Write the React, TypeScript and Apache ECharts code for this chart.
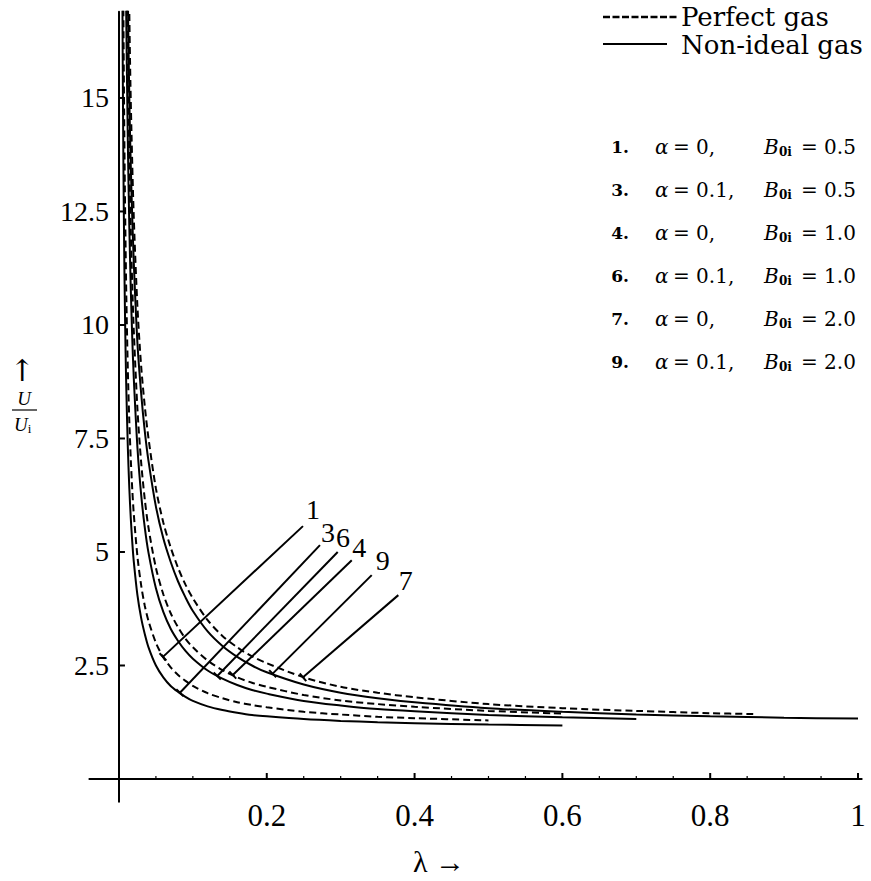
import React, { useEffect, useRef } from "react";
import * as echarts from "echarts";

// ---- data ----
// Curve 1: alpha = 0, B0i = 0.5 (perfect gas, dashed)
const lam1 = [0.005, 0.006, 0.007, 0.008, 0.009, 0.01, 0.012, 0.014, 0.016, 0.018, 0.02, 0.025, 0.03, 0.035, 0.04, 0.05, 0.06, 0.07, 0.08, 0.09, 0.1, 0.12, 0.14, 0.16, 0.18, 0.2, 0.25, 0.3, 0.35, 0.4, 0.5];
const u1 = [20.1, 16.9, 14.7, 13.0, 11.7, 10.6, 9.02, 7.89, 7.04, 6.38, 5.85, 4.9, 4.27, 3.81, 3.48, 3.0, 2.68, 2.46, 2.29, 2.16, 2.05, 1.89, 1.78, 1.69, 1.63, 1.58, 1.48, 1.42, 1.37, 1.34, 1.29];
// Curve 3: alpha = 0.1, B0i = 0.5 (non-ideal, solid)
const lam3 = [0.004, 0.005, 0.006, 0.007, 0.008, 0.009, 0.01, 0.012, 0.014, 0.016, 0.018, 0.02, 0.025, 0.03, 0.035, 0.04, 0.05, 0.06, 0.07, 0.08, 0.09, 0.1, 0.12, 0.14, 0.16, 0.18, 0.2, 0.25, 0.3, 0.35, 0.4, 0.5, 0.6];
const u3 = [19.8, 16.05, 13.55, 11.76, 10.43, 9.38, 8.55, 7.3, 6.41, 5.74, 5.22, 4.8, 4.05, 3.55, 3.19, 2.9, 2.5, 2.24, 2.05, 1.92, 1.81, 1.72, 1.6, 1.52, 1.46, 1.41, 1.38, 1.32, 1.28, 1.25, 1.23, 1.2, 1.18];
// Curve 4: alpha = 0, B0i = 1.0 (dashed)
const lam4 = [0.009, 0.01, 0.012, 0.014, 0.016, 0.018, 0.02, 0.025, 0.03, 0.035, 0.04, 0.05, 0.06, 0.07, 0.08, 0.09, 0.1, 0.12, 0.14, 0.16, 0.18, 0.2, 0.25, 0.3, 0.35, 0.4, 0.5, 0.6];
const u4 = [20.6, 18.65, 15.73, 13.65, 12.09, 10.87, 9.9, 8.15, 6.98, 6.15, 5.53, 4.65, 4.07, 3.65, 3.34, 3.09, 2.9, 2.61, 2.4, 2.24, 2.12, 2.03, 1.85, 1.73, 1.65, 1.59, 1.5, 1.44];
// Curve 6: alpha = 0.1, B0i = 1.0 (solid)
const lam6 = [0.008, 0.009, 0.01, 0.012, 0.014, 0.016, 0.018, 0.02, 0.025, 0.03, 0.035, 0.04, 0.05, 0.06, 0.07, 0.08, 0.09, 0.1, 0.12, 0.14, 0.16, 0.18, 0.2, 0.25, 0.3, 0.35, 0.4, 0.5, 0.6, 0.7];
const u6 = [20.5, 18.3, 16.6, 14.02, 12.17, 10.79, 9.71, 8.85, 7.3, 6.27, 5.53, 4.98, 4.2, 3.68, 3.31, 3.04, 2.82, 2.65, 2.39, 2.21, 2.07, 1.96, 1.88, 1.72, 1.62, 1.54, 1.49, 1.41, 1.36, 1.32];
// Curve 7: alpha = 0, B0i = 2.0 (dashed)
const lam7 = [0.012, 0.013, 0.015, 0.017, 0.02, 0.025, 0.03, 0.035, 0.04, 0.05, 0.06, 0.07, 0.08, 0.09, 0.1, 0.12, 0.14, 0.16, 0.18, 0.2, 0.25, 0.3, 0.35, 0.4, 0.5, 0.6, 0.7, 0.8, 0.86];
const u7 = [20.0, 18.2, 15.8, 14.2, 12.4, 10.4, 9.1, 8.2, 7.5, 6.4, 5.65, 5.1, 4.65, 4.28, 3.98, 3.5, 3.15, 2.9, 2.7, 2.55, 2.24, 2.03, 1.9, 1.8, 1.65, 1.56, 1.5, 1.45, 1.43];
// Curve 9: alpha = 0.1, B0i = 2.0 (solid)
const lam9 = [0.011, 0.012, 0.0135, 0.015, 0.017, 0.02, 0.025, 0.03, 0.035, 0.04, 0.05, 0.06, 0.07, 0.08, 0.09, 0.1, 0.12, 0.14, 0.16, 0.18, 0.2, 0.25, 0.3, 0.35, 0.4, 0.5, 0.6, 0.7, 0.8, 0.9, 1.0];
const u9 = [19.0, 17.3, 15.5, 14.2, 12.9, 11.4, 9.6, 8.5, 7.65, 7.0, 6.0, 5.3, 4.78, 4.35, 4.0, 3.7, 3.25, 2.93, 2.69, 2.5, 2.35, 2.08, 1.9, 1.78, 1.69, 1.56, 1.48, 1.42, 1.38, 1.35, 1.33];

// callouts (label, label position, leader start, leader end on curve)
const calloutLabels = ["1", "3", "6", "4", "9", "7"];
const calloutLabelLam = [0.2625, 0.283, 0.303, 0.325, 0.357, 0.388];
const calloutLabelU = [5.93, 5.42, 5.33, 5.09, 4.82, 4.38];
const calloutStartLam = [0.249, 0.272, 0.296, 0.315, 0.342, 0.378];
const calloutStartU = [5.57, 5.15, 5.0, 4.82, 4.49, 4.05];
const calloutEndLam = [0.0595, 0.0825, 0.133, 0.154, 0.208, 0.249];
const calloutEndU = [2.69, 1.9, 2.27, 2.29, 2.32, 2.24];

// axis ticks
const xLabelValues = [0.2, 0.4, 0.6, 0.8, 1.0];
const xMinorValues = [0.05, 0.1, 0.15, 0.25, 0.3, 0.35, 0.45, 0.5, 0.55, 0.65, 0.7, 0.75, 0.85, 0.9, 0.95];
const yLabelValues = [2.5, 5, 7.5, 10, 12.5, 15];

// parameter list
const caseNumbers = ["1.", "3.", "4.", "6.", "7.", "9."];
const caseAlpha = ["0,", "0.1,", "0,", "0.1,", "0,", "0.1,"];
const caseB = ["0.5", "0.5", "1.0", "1.0", "2.0", "2.0"];

const SERIF = "Liberation Serif";
const MATH = "DejaVu Serif";

function pairs(l: number[], u: number[]) {
  return l.map((x, i) => [x, u[i]]);
}

export default function App() {
  const ref = useRef<HTMLDivElement>(null);

  useEffect(() => {
    const el = ref.current!;
    const chart = echarts.init(el, null, { renderer: "svg", width: 871, height: 881 });

    const solid = { color: "#000", width: 2, type: "solid" as const };
    const dashed = { color: "#000", width: 2, type: [7, 4] as any };

    const lineSeries = (name: string, data: number[][], style: any) => ({
      type: "line",
      name,
      xAxisIndex: 0,
      yAxisIndex: 0,
      data,
      showSymbol: false,
      smooth: 0.3,
      clip: true,
      lineStyle: style,
      silent: true,
    });

    const option: any = {
      animation: false,
      backgroundColor: "#fff",
      grid: { left: 89.4, right: 9.3, top: 11.7, bottom: 79.3, containLabel: false },
      xAxis: {
        type: "value",
        min: -0.04,
        max: 1.005,
        axisLine: { show: true, onZero: true, lineStyle: { color: "#000", width: 2 } },
        axisTick: { show: false },
        axisLabel: { show: false },
        splitLine: { show: false },
      },
      yAxis: {
        type: "value",
        min: -0.5,
        max: 16.9,
        axisLine: { show: true, onZero: true, lineStyle: { color: "#000", width: 2 } },
        axisTick: { show: false },
        axisLabel: { show: false },
        splitLine: { show: false },
      },
      series: [
        lineSeries("1", pairs(lam1, u1), dashed),
        lineSeries("3", pairs(lam3, u3), solid),
        lineSeries("4", pairs(lam4, u4), dashed),
        lineSeries("6", pairs(lam6, u6), solid),
        lineSeries("7", pairs(lam7, u7), dashed),
        lineSeries("9", pairs(lam9, u9), solid),
        {
          type: "custom",
          xAxisIndex: 0,
          yAxisIndex: 0,
          clip: false,
          silent: true,
          data: calloutLabels.map((_, i) => [
            calloutLabelLam[i], calloutLabelU[i],
            calloutStartLam[i], calloutStartU[i],
            calloutEndLam[i], calloutEndU[i],
          ]),
          encode: { x: [0, 2, 4], y: [1, 3, 5] },
          renderItem: (params: any, api: any) => {
            const pl = api.coord([api.value(0), api.value(1)]);
            const p0 = api.coord([api.value(2), api.value(3)]);
            const p1 = api.coord([api.value(4), api.value(5)]);
            const dx = p1[0] - p0[0];
            const dy = p1[1] - p0[1];
            const len = Math.hypot(dx, dy) || 1;
            const nx = -dy / len;
            const ny = dx / len;
            const h = 5;
            return {
              type: "group",
              children: [
                { type: "line", shape: { x1: p0[0], y1: p0[1], x2: p1[0], y2: p1[1] }, style: { stroke: "#000", lineWidth: 2 } },
                { type: "line", shape: { x1: p1[0] - nx * h, y1: p1[1] - ny * h, x2: p1[0] + nx * h, y2: p1[1] + ny * h }, style: { stroke: "#000", lineWidth: 2 } },
                {
                  type: "text",
                  x: pl[0],
                  y: pl[1],
                  style: { text: calloutLabels[params.dataIndex], fontFamily: SERIF, fontSize: 28, fill: "#000", align: "center", verticalAlign: "middle" },
                },
              ],
            };
          },
        },
      ],
    };

    chart.setOption(option);

    const pt = (x: number, y: number) => chart.convertToPixel({ xAxisIndex: 0, yAxisIndex: 0 }, [x, y]) as number[];
    const g: any[] = [];

    // x ticks and labels
    xLabelValues.forEach((v) => {
      const p = pt(v, 0);
      g.push({ type: "line", shape: { x1: p[0], y1: p[1], x2: p[0], y2: p[1] - 6 }, style: { stroke: "#000", lineWidth: 2 } });
      g.push({
        type: "text", x: p[0], y: p[1] + 37,
        style: { text: Math.abs(v - 1) < 1e-9 ? "1" : v.toFixed(1), fontFamily: SERIF, fontSize: 31, fill: "#000", align: "center", verticalAlign: "middle" },
      });
    });
    xMinorValues.forEach((v) => {
      const p = pt(v, 0);
      g.push({ type: "line", shape: { x1: p[0], y1: p[1], x2: p[0], y2: p[1] - 3 }, style: { stroke: "#000", lineWidth: 1.2 } });
    });
    // y ticks and labels
    yLabelValues.forEach((v) => {
      const p = pt(0, v);
      g.push({ type: "line", shape: { x1: p[0], y1: p[1], x2: p[0] + 6, y2: p[1] }, style: { stroke: "#000", lineWidth: 2 } });
      g.push({
        type: "text", x: p[0] - 10, y: p[1],
        style: { text: String(v), fontFamily: SERIF, fontSize: 28, fill: "#000", align: "right", verticalAlign: "middle" },
      });
    });

    // legend
    g.push({
      type: "line",
      shape: { x1: 603, y1: 17, x2: 679, y2: 17 },
      style: { stroke: "#000", lineWidth: 2.4, lineDash: [7, 2.5] },
    });
    g.push({
      type: "text", x: 681, y: 17,
      style: { text: "Perfect gas", fontFamily: MATH, fontSize: 26, fill: "#000", verticalAlign: "middle" },
    });
    g.push({
      type: "line",
      shape: { x1: 603, y1: 44, x2: 667, y2: 44 },
      style: { stroke: "#000", lineWidth: 2 },
    });
    g.push({
      type: "text", x: 681, y: 45,
      style: { text: "Non-ideal gas", fontFamily: MATH, fontSize: 26, fill: "#000", verticalAlign: "middle" },
    });

    // parameter list
    const rowY0 = 147;
    const rowStep = 43;
    caseNumbers.forEach((n, i) => {
      const y = rowY0 + i * rowStep;
      g.push({
        type: "text", x: 629, y,
        style: { text: n, fontFamily: MATH, fontSize: 17, fontWeight: "bold", fill: "#000", align: "right", verticalAlign: "middle" },
      });
      g.push({
        type: "text", x: 655, y,
        style: { text: "α", fontFamily: MATH, fontSize: 20, fontStyle: "italic", fill: "#000", verticalAlign: "middle" },
      });
      g.push({
        type: "text", x: 673, y,
        style: { text: "= " + caseAlpha[i], fontFamily: MATH, fontSize: 20, fill: "#000", verticalAlign: "middle" },
      });
      g.push({
        type: "text", x: 764, y,
        style: { text: "B", fontFamily: MATH, fontSize: 20, fontStyle: "italic", fill: "#000", verticalAlign: "middle" },
      });
      g.push({
        type: "text", x: 779, y: y + 5,
        style: { text: "0i", fontFamily: MATH, fontSize: 12, fontWeight: "bold", fill: "#000", verticalAlign: "middle" },
      });
      g.push({
        type: "text", x: 801, y,
        style: { text: "= " + caseB[i], fontFamily: MATH, fontSize: 20, fill: "#000", verticalAlign: "middle" },
      });
    });

    // y-axis name: arrow and U/Ui (at the far left)
    g.push({
      type: "text", x: 22, y: 370,
      style: { text: "↑", fontFamily: "DejaVu Serif", fontSize: 30, fill: "#000", align: "center", verticalAlign: "middle" },
    });
    g.push({
      type: "text", x: 24, y: 398,
      style: { text: "U", fontFamily: SERIF, fontSize: 19, fontStyle: "italic", fill: "#000", align: "center", verticalAlign: "middle" },
    });
    g.push({
      type: "line", shape: { x1: 12, y1: 410, x2: 37, y2: 410 },
      style: { stroke: "#000", lineWidth: 1.2 },
    });
    g.push({
      type: "text", x: 14, y: 424,
      style: {
        text: "{u|U}{s|i}",
        fill: "#000",
        verticalAlign: "middle",
        rich: {
          u: { fontFamily: SERIF, fontSize: 19, fontStyle: "italic", lineHeight: 22, verticalAlign: "middle" },
          s: { fontFamily: SERIF, fontSize: 13, lineHeight: 22, verticalAlign: "bottom" },
        },
      },
    });
    // x-axis name
    g.push({
      type: "text", x: 439, y: 861,
      style: { text: "λ →", fontFamily: SERIF, fontSize: 30, fill: "#000", align: "center", verticalAlign: "middle" },
    });

    chart.setOption({ graphic: g });
    return () => chart.dispose();
  }, []);

  return (
    <div
      ref={ref}
      style={{ position: "absolute", left: 0, top: 0, width: 871, height: 881, background: "#fff" }}
    />
  );
}
